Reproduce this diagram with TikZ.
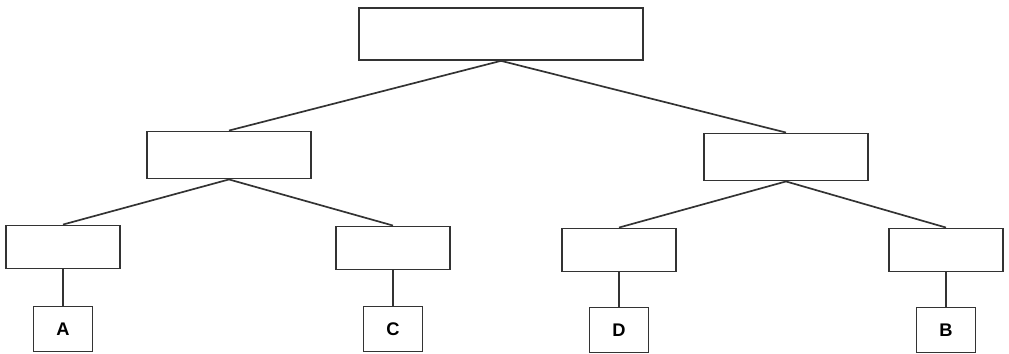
\documentclass[tikz,border=0pt]{standalone}
\usepackage{fontspec}
\setsansfont{Liberation Sans}
\usepackage{tikz}
\usetikzlibrary{positioning}

\begin{document}
\begin{tikzpicture}[x=0.025cm, y=-0.025cm,
    box/.style={draw=black!80, line width=1.2pt, inner sep=0pt},
    topbox/.style={box, minimum width=7.1cm, minimum height=1.3cm},
    midbox/.style={box, minimum width=4.1cm, minimum height=1.18cm},
    lowbox/.style={box, minimum width=2.85cm, minimum height=1.08cm},
    leafbox/.style={box, minimum width=1.48cm, minimum height=1.13cm,
        font=\sffamily\bfseries\fontsize{13}{13}\selectfont},
    link/.style={draw=black!80, line width=1.2pt}]
    \useasboundingbox (0,0) rectangle (1009,354);

    % root and second level
    \node[topbox] (root) at (501,34) {};
    \node[midbox] (midL) at (229,155) {};
    \node[midbox] (midR) at (786,157) {};

    % third level
    \node[lowbox] (lowA) at (63,247) {};
    \node[lowbox] (lowC) at (393,248) {};
    \node[lowbox] (lowD) at (619,250) {};
    \node[lowbox] (lowB) at (946,250) {};

    % leaves
    \node[leafbox] (leafA) at (63,329) {A};
    \node[leafbox] (leafC) at (393,329) {C};
    \node[leafbox] (leafD) at (619,330) {D};
    \node[leafbox] (leafB) at (946,330) {B};

    \draw[link] (root.south) -- (midL.north);
    \draw[link] (root.south) -- (midR.north);
    \draw[link] (midL.south) -- (lowA.north);
    \draw[link] (midL.south) -- (lowC.north);
    \draw[link] (midR.south) -- (lowD.north);
    \draw[link] (midR.south) -- (lowB.north);
    \foreach \n in {A,C,D,B}
        \draw[link] (low\n.south) -- (leaf\n.north);
\end{tikzpicture}
\end{document}
